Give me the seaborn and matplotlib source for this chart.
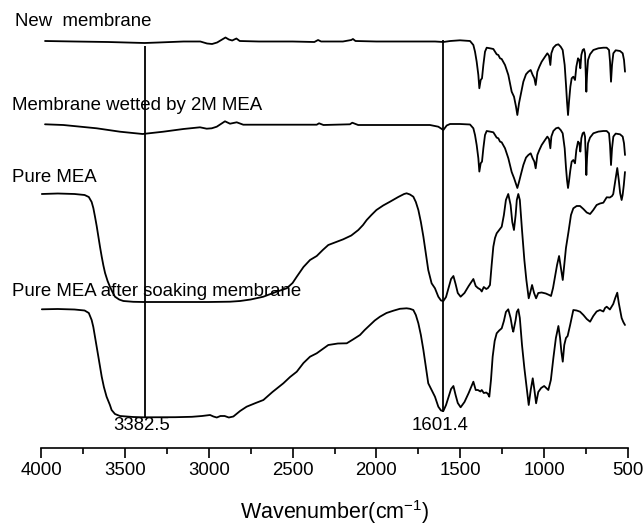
import numpy as np
import pandas as pd
import matplotlib
matplotlib.use("Agg")
import matplotlib.pyplot as plt
from matplotlib.ticker import MultipleLocator
import seaborn as sns

# ---------------- data ----------------
# signal values are offset spectra in arbitrary units (larger = lower on the plot)
new_membrane_wn = [3976, 3800, 3600, 3450, 3382, 3300, 3150, 3050, 3010, 2980, 2950, 2920, 2900,
                   2880, 2860, 2835, 2815, 2700, 2500, 2370, 2348, 2330, 2200, 2150, 2140, 2125,
                   2000, 1800, 1650, 1601, 1560, 1502, 1442, 1422.1, 1412.2, 1402.3, 1392.3,
                   1386.4, 1378.4, 1370.5, 1362.5, 1352.6, 1342.6, 1322.8, 1302.9, 1283.0, 1273.1,
                   1263.1, 1253.2, 1233.3, 1213.5, 1193.6, 1179.7, 1167.7, 1159.8, 1149.9, 1137.9,
                   1124.0, 1108.1, 1094.2, 1080.3, 1068.4, 1058.4, 1050.5, 1040.5, 1028.6, 1014.7,
                   994.8, 980.9, 971.0, 963.0, 957.0, 945.1, 929.2, 915.3, 901.4, 889.5, 877.6,
                   869.6, 863.6, 857.6, 851.7, 843.7, 835.8, 825.9, 815.9, 808.0, 798.0, 790.1,
                   784.2, 778.2, 770.2, 762.3, 756.3, 752.3, 748.4, 744.4, 738.4, 726.5, 706.6,
                   676.8, 647.0, 627.1, 613.2, 607.2, 601.3, 595.3, 587.4, 573.4, 547.6, 531.7,
                   523.8, 517.8]
new_membrane_sig = [41, 41.5, 42, 42.7, 43, 42.5, 41.5, 41.5, 43.5, 44, 42.5, 39.5, 37.5,
                    39.5, 40.5, 38.5, 41, 41.5, 41.5, 42, 40, 41.5, 41.5, 40, 39, 41,
                    41.5, 41.5, 41.5, 42, 41, 40.3, 41, 45, 51.7, 61.7, 75,
                    88.3, 80, 78.3, 65, 51.7, 47.7, 48.3, 49, 54.3, 55,
                    58.3, 59, 65, 75, 91.7, 96.7, 106.7, 115, 103.3, 93.3,
                    81.7, 74.3, 71.7, 70, 75, 78.3, 85, 71.7, 66.7, 61.7,
                    56.7, 53.3, 55.7, 65, 53.3, 47.7, 45, 44.3, 46.7, 50, 65,
                    85, 101.7, 115, 101.7, 86.7, 78.3, 76.7, 80, 66.7, 58.3, 60,
                    68.3, 55, 50, 49, 53.3, 71.7, 91.7, 75, 60, 54.3, 50,
                    48.3, 47.7, 47.7, 50, 61.7, 81.7, 65, 53.3, 50.3, 51, 53.3,
                    60, 71.7]

wetted_wn = [3976, 3867, 3668, 3529, 3394, 3271, 3151, 3052, 3012, 2982, 2952, 2903, 2873,
             2833, 2794, 2356, 2342, 2316, 2158, 2144, 2109, 1681, 1631, 1601, 1581, 1561,
             1502, 1442, 1422.1, 1412.2, 1402.3, 1392.3, 1386.4, 1378.4, 1370.5, 1362.5,
             1352.6, 1342.6, 1322.8, 1302.9, 1283.0, 1273.1, 1263.1, 1253.2, 1233.3, 1213.5,
             1193.6, 1179.7, 1167.7, 1159.8, 1149.9, 1137.9, 1124.0, 1108.1, 1094.2, 1080.3,
             1068.4, 1058.4, 1050.5, 1040.5, 1028.6, 1014.7, 994.8, 980.9, 971.0, 963.0,
             957.0, 945.1, 929.2, 915.3, 901.4, 889.5, 877.6, 869.6, 863.6, 857.6, 851.7,
             843.7, 835.8, 825.9, 815.9, 808.0, 798.0, 790.1, 784.2, 778.2, 770.2, 762.3,
             756.3, 752.3, 748.4, 744.4, 738.4, 726.5, 706.6, 676.8, 647.0, 627.1, 613.2,
             607.2, 601.3, 595.3, 587.4, 573.4, 547.6, 531.7, 523.8, 517.8]
wetted_sig = [124.3, 125, 128.3, 131.7, 134, 131.7, 129, 127.3, 128.7, 128.3, 126.7, 121.3, 123.7,
              122.3, 124.7, 124.7, 123.3, 125, 124.3, 122.7, 125, 125, 126.7, 130, 125.5, 124,
              124, 124.5, 128.3, 135, 145, 158.3, 171.6, 163.3, 161.6, 148.3,
              135, 131, 131.6, 132.3, 137.6, 138.3, 141.6, 142.3, 148.3, 158.3,
              172, 178, 184, 188, 182, 174, 165, 157.6, 155, 153.3,
              158.3, 161.6, 168.3, 155, 150, 145, 140, 136.6, 139, 148.3,
              136.6, 131, 128.3, 127.6, 130, 133.3, 148.3, 168, 180, 188, 181,
              170, 161.6, 160, 163.3, 150, 141.6, 143.3, 151.6, 138.3, 133.3, 132.3,
              136.6, 155, 175, 158.3, 143.3, 137.6, 133.3, 131.6, 131, 131, 133.3,
              145, 165, 148.3, 136.6, 133.6, 134.3, 136.6, 143.3, 155]

pure_mea_wn = [3995, 3900, 3800, 3740, 3715, 3698, 3688, 3678, 3668, 3658, 3648, 3638, 3628,
               3618, 3603, 3589, 3574, 3559, 3534, 3509, 3450, 3390, 3200, 3000, 2873, 2813,
               2750, 2674, 2600, 2535, 2500, 2475, 2435, 2396, 2356, 2320, 2287, 2240, 2198,
               2150, 2108, 2080, 2058, 2030, 2000, 1960, 1919, 1870, 1835, 1820, 1800, 1780,
               1765, 1750, 1735, 1720, 1705, 1691, 1671, 1651, 1631, 1615, 1601, 1585, 1570,
               1555, 1541, 1528, 1515, 1498, 1475, 1450, 1422, 1408, 1395, 1380, 1372, 1360,
               1345, 1335, 1323, 1313, 1303, 1293, 1283, 1268, 1253, 1240, 1228, 1214, 1200,
               1190, 1180, 1170, 1163, 1154, 1145, 1132, 1118, 1106, 1092, 1082, 1072, 1060,
               1048, 1035, 1015, 990, 970, 959, 947, 935, 923, 911, 900, 889, 880, 870, 855,
               840, 826, 806, 786, 766, 746, 726, 707, 687, 667, 647, 637, 627, 608, 595, 588,
               577, 564, 555, 547, 538, 532, 525, 518]
pure_mea_sig = [194, 193.5, 194, 195, 197, 202, 208, 216.7, 226, 236.7, 247, 256.7, 265.5,
                273, 281, 286.7, 292, 296.7, 299.5, 301, 301.8, 302, 302, 302, 301.7, 301,
                299.5, 296.7, 292, 288.3, 283, 276.7, 267, 260, 256, 250, 245, 242, 239.3,
                235.5, 230, 225, 220, 215, 210, 205.5, 201.7, 197, 194, 193.3, 194.5, 196.7,
                202, 210, 222, 236.7, 254, 270, 283.3, 288.3, 296.7, 300.5, 301, 297, 288,
                279, 276, 284, 293, 296.7, 293, 286, 279, 286, 288, 289.5, 291.5, 287,
                289, 288, 285, 265, 246.7, 238, 233.3, 230, 226.7, 215, 200, 194, 205,
                222, 230, 215, 200, 194, 200, 230, 260, 280, 298.3, 292, 285, 293,
                298.3, 293, 292.5, 293.5, 295, 296, 288, 276.7, 265, 256, 268, 280, 265, 248, 232,
                215, 208.3, 206, 206, 209, 212.5, 214, 210, 205, 203.5, 202.7, 200, 197.3, 197.5, 196, 194,
                182, 168, 180, 193, 200, 195, 185, 172]

soaked_wn = [3995, 3900, 3800, 3740, 3715, 3698, 3688, 3678, 3668, 3658, 3648, 3638, 3625,
             3609, 3589, 3579, 3559, 3529, 3450, 3390, 3200, 3100, 3040, 2992, 2972, 2952,
             2930, 2905, 2880, 2853, 2813, 2774, 2720, 2674, 2620, 2555, 2515, 2475, 2435,
             2396, 2356, 2320, 2287, 2230, 2177, 2140, 2098, 2070, 2038, 2010, 1979, 1940,
             1899, 1860, 1820, 1800, 1780, 1765, 1750, 1735, 1720, 1705, 1691, 1671, 1651,
             1631, 1615, 1601, 1585, 1570, 1555, 1541, 1528, 1515, 1498, 1475, 1450, 1422,
             1408, 1395, 1380, 1372, 1360, 1345, 1335, 1327, 1317, 1307, 1295, 1283, 1268,
             1253, 1240, 1228, 1214, 1200, 1190, 1184, 1170, 1163, 1154, 1145, 1132, 1118,
             1106, 1092, 1080, 1068, 1058, 1048, 1035, 1018, 1000, 975, 960, 945, 930, 915,
             905, 897, 889, 880, 870, 860, 845, 826, 806, 786, 766, 746, 726, 707, 687, 667,
             647, 637, 627, 608, 598, 588, 576, 564, 555, 547, 538, 528, 518]
soaked_sig = [309.3, 309, 309.5, 310.5, 313, 320, 327, 336.7, 346.5, 356.7, 366.5, 376.7, 387,
              396.7, 405, 410, 414, 416, 417, 417.3, 417.2, 416.8, 416, 415, 416.5, 417.5,
              416, 416, 417.5, 416.5, 411, 406.7, 403, 400, 392, 383.3, 377, 371.7, 363,
              356.7, 353.3, 349, 345, 343.5, 343.3, 339.5, 335, 330, 325, 320.5, 316.7, 313,
              310.7, 308.8, 308.3, 308.8, 310, 315, 323.3, 335, 350, 367, 383.3, 390, 396.7,
              406.7, 410.5, 411, 405, 397, 389, 386, 395, 403, 407.3, 402, 393, 381.7,
              390, 390, 391.5, 390, 393, 392.5, 394, 396.7, 380, 356.7, 341, 333.3, 330.5,
              328.3, 321, 312, 309.3, 318, 328, 331.7, 320, 312, 309.3, 318, 345, 368,
              385, 405, 390, 378.3, 390, 403.3, 392, 388, 386, 390, 380, 358, 338, 326,
              338, 352, 361.7, 345, 338, 336, 325, 310, 310.5, 311.7, 315, 319, 321.7, 316, 311.5, 310,
              311.5, 308, 306.7, 309.5, 306.7, 304, 298, 292.7, 303, 310, 318, 322, 325]

spectrum_names = ["New  membrane", "Membrane wetted by 2M MEA", "Pure MEA",
                  "Pure MEA after soaking membrane"]
peak_positions = [3382.5, 1601.4]
peak_labels = ["3382.5", "1601.4"]
x_ticks = [4000, 3500, 3000, 2500, 2000, 1500, 1000, 500]

# ---------------- build long table ----------------
frames = []
for name, wn, sig in zip(spectrum_names,
                         [new_membrane_wn, wetted_wn, pure_mea_wn, soaked_wn],
                         [new_membrane_sig, wetted_sig, pure_mea_sig, soaked_sig]):
    frames.append(pd.DataFrame({"wavenumber": wn, "signal": sig, "spectrum": name}))
df = pd.concat(frames, ignore_index=True)

# ---------------- plotting ----------------
sns.set_theme(style="white")
plt.rcParams["font.family"] = ["Liberation Sans", "DejaVu Sans"]
plt.rcParams["mathtext.fontset"] = "custom"
plt.rcParams["mathtext.rm"] = "Liberation Sans"
plt.rcParams["mathtext.it"] = "Liberation Sans:italic"

W, H = 643, 527
fig = plt.figure(figsize=(W / 100, H / 100), dpi=100)
ax_left, ax_right, ax_bottom_px = 41, 628, 448
ax = fig.add_axes([ax_left / W, 1 - ax_bottom_px / H, (ax_right - ax_left) / W, ax_bottom_px / H])

sns.lineplot(data=df, x="wavenumber", y="signal", units="spectrum", estimator=None,
             sort=False, color="black", linewidth=1.3, ax=ax, legend=False)

ax.set_xlim(4000, 500)
ax.set_ylim(448, 0)

# marker lines at the peaks
ax.vlines(peak_positions[0], 46, 417, color="black", linewidth=1.3)
ax.vlines(peak_positions[1], 40, 412, color="black", linewidth=1.3)
for pos, lab in zip(peak_positions, peak_labels):
    ax.text(pos + 20, 426, lab, ha="center", va="center", fontsize=13.4, color="black")

# spectrum labels
label_x = [4155, 4173, 4173, 4173]
label_y = [22, 105, 177, 291]
for name, lx, ly in zip(spectrum_names, label_x, label_y):
    ax.text(lx, ly, name, ha="left", va="center", fontsize=13.4, color="black", clip_on=False)

# axes styling
for side in ["left", "top", "right"]:
    ax.spines[side].set_visible(False)
ax.spines["bottom"].set_color("black")
ax.spines["bottom"].set_linewidth(1.2)
ax.set_yticks([])
ax.set_xticks(x_ticks)
ax.set_xticklabels([str(t) for t in x_ticks])
ax.xaxis.set_minor_locator(MultipleLocator(250))
ax.tick_params(axis="x", which="major", direction="out", length=7, width=1.2,
               color="black", labelsize=13.4, labelcolor="black", pad=3, bottom=True)
ax.tick_params(axis="x", which="minor", direction="out", length=4, width=1.2,
               color="black", bottom=True)
ax.set_ylabel("")
ax.set_xlabel("Wavenumber(cm$^{-1}$)", fontsize=15.5, color="black", labelpad=14)
ax.grid(False)

fig.savefig("out.png", dpi=100)
